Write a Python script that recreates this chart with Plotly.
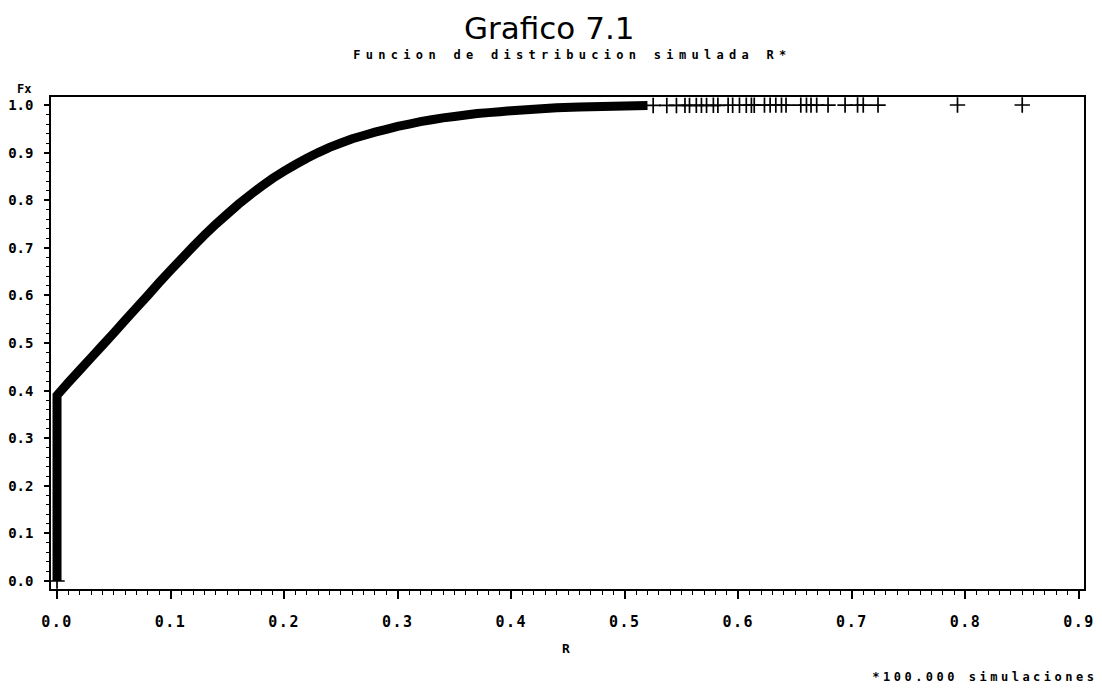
import plotly.graph_objects as go

# Dense part of the simulated CDF (drawn as a thick band)
r_curve = [0.0, 0.0, 0.01, 0.02, 0.03, 0.04, 0.05, 0.06, 0.07, 0.08, 0.09, 0.10,
           0.11, 0.12, 0.13, 0.14, 0.15, 0.16, 0.17, 0.18, 0.19, 0.20, 0.21, 0.22,
           0.23, 0.24, 0.25, 0.26, 0.27, 0.28, 0.29, 0.30, 0.31, 0.32, 0.33, 0.34,
           0.35, 0.36, 0.37, 0.38, 0.39, 0.40, 0.42, 0.44, 0.46, 0.48, 0.50, 0.52]
fx_curve = [0.0, 0.390, 0.417, 0.443, 0.469, 0.495, 0.521, 0.548, 0.574, 0.600,
            0.627, 0.653, 0.678, 0.703, 0.727, 0.750, 0.771, 0.792, 0.811, 0.829,
            0.846, 0.861, 0.875, 0.888, 0.900, 0.911, 0.920, 0.929, 0.936, 0.943,
            0.949, 0.955, 0.960, 0.965, 0.969, 0.973, 0.976, 0.979, 0.982, 0.984,
            0.986, 0.988, 0.991, 0.994, 0.996, 0.997, 0.998, 0.999]

# Sparse upper tail observations (individual '+' markers)
r_tail = [0.0, 0.525, 0.537, 0.5455, 0.553, 0.557, 0.563, 0.5675, 0.572, 0.578,
          0.582, 0.591, 0.595, 0.601, 0.607, 0.6115, 0.614, 0.623, 0.628, 0.633,
          0.638, 0.642, 0.655, 0.660, 0.664, 0.669, 0.679, 0.694, 0.705, 0.710,
          0.723, 0.793, 0.850]
fx_tail = [0.0, 0.9990, 0.9991, 0.9991, 0.9992, 0.9992, 0.9993, 0.9993, 0.9993,
           0.9994, 0.9994, 0.9995, 0.9995, 0.9995, 0.9996, 0.9996, 0.9996, 0.9997,
           0.9997, 0.9997, 0.9997, 0.9998, 0.9998, 0.9998, 0.9998, 0.9998, 0.9999,
           0.9999, 0.9999, 0.9999, 0.9999, 1.0, 1.0]

x_ticks = [0.0, 0.1, 0.2, 0.3, 0.4, 0.5, 0.6, 0.7, 0.8, 0.9]
y_ticks = [0.0, 0.1, 0.2, 0.3, 0.4, 0.5, 0.6, 0.7, 0.8, 0.9, 1.0]

title_text = "Grafico 7.1"
subtitle_text = "Funcion de distribucion simulada R*"
x_label = "R"
y_label = "Fx"
footnote = "*100.000 simulaciones"

mono = "DejaVu Sans Mono"

fig = go.Figure()
fig.add_trace(go.Scatter(
    x=r_curve, y=fx_curve, mode="lines",
    line=dict(color="black", width=9, simplify=False),
    hoverinfo="skip", showlegend=False))
fig.add_trace(go.Scatter(
    x=r_tail, y=fx_tail, mode="markers",
    marker=dict(symbol="cross-thin", size=11, line=dict(color="black", width=1.7)),
    showlegend=False))

W, H = 1102, 692
L, R, T, B = 51, 18, 97, 103
PW, PH = W - L - R, H - T - B

fig.update_layout(
    width=W, height=H,
    margin=dict(l=L, r=R, t=T, b=B, pad=0, autoexpand=False),
    paper_bgcolor="white", plot_bgcolor="white",
    font=dict(family=mono, color="black", size=14),
    showlegend=False,
)

fig.update_xaxes(
    range=[-0.0053, 0.9044], tickvals=x_ticks,
    ticktext=[f"{v:.1f}" for v in x_ticks],
    showgrid=False, zeroline=False, automargin=False,
    showline=True, linecolor="black", linewidth=1.5, mirror=True,
    ticks="outside", ticklen=8, tickwidth=1.5, tickcolor="black",
    ticklabelstandoff=10,
    tickfont=dict(family=mono, size=15, color="black", weight="bold"),
    minor=dict(dtick=0.01, tick0=0, ticks="outside", ticklen=4, tickwidth=1.2,
               tickcolor="black", showgrid=False),
)
fig.update_yaxes(
    range=[-0.0168, 1.0168], tickvals=y_ticks,
    ticktext=[f"{v:.1f}" for v in y_ticks],
    showgrid=False, zeroline=False, automargin=False,
    showline=True, linecolor="black", linewidth=1.5, mirror=True,
    ticks="outside", ticklen=5, tickwidth=1.5, tickcolor="black",
    ticklabelstandoff=8,
    tickfont=dict(family=mono, size=14, color="black", weight="bold"),
    minor=dict(dtick=0.02, tick0=0, ticks="outside", ticklen=3, tickwidth=1.2,
               tickcolor="black", showgrid=False),
)

def px_x(p):
    return (p - L) / PW

def px_y(p):
    return (H - B - p) / PH

anns = [
    dict(text=title_text, x=px_x(549), y=px_y(28), font=dict(family="DejaVu Sans", size=31)),
    dict(text=subtitle_text, x=px_x(572), y=px_y(55),
         font=dict(family=mono, size=12, weight="bold")),
    dict(text=y_label, x=px_x(24), y=px_y(89), font=dict(family=mono, size=12, weight="bold")),
    dict(text=x_label, x=px_x(566), y=px_y(648), font=dict(family=mono, size=13, weight="bold")),
    dict(text=footnote, x=px_x(985), y=px_y(677),
         font=dict(family=mono, size=12, weight="bold")),
]
for a in anns:
    fig.add_annotation(xref="paper", yref="paper", xanchor="center", yanchor="middle",
                       showarrow=False, **a)

post = """
document.body.style.margin = '0';
document.querySelectorAll('text').forEach(function(t){
  var s = t.textContent || '';
  if (s.indexOf('Funcion') === 0) { t.style.letterSpacing = '5.3px'; }
  if (s.indexOf('*100.000') === 0) { t.style.letterSpacing = '3.5px'; }
});
document.querySelectorAll('.xtick text').forEach(function(t){
  t.style.letterSpacing = '1.5px';
});
"""

fig.write_html("out.html", post_script=post, config={"displayModeBar": False})
